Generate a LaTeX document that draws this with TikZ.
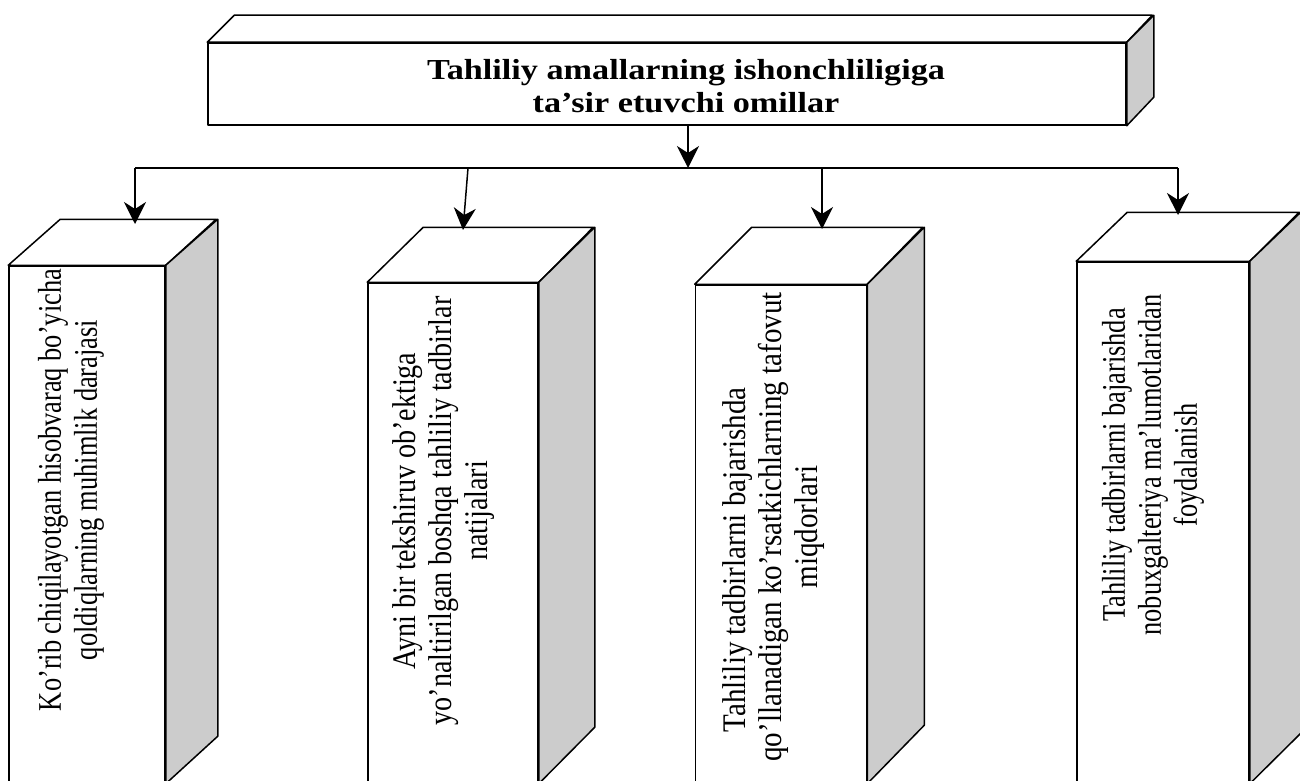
\documentclass[tikz,border=0pt]{standalone}
\usepackage{fontspec}
\setmainfont{Liberation Serif}
\newfontfamily\titlefont[FakeStretch=1.18]{Liberation Serif Bold}
\newfontfamily\boxfont[FakeStretch=0.8]{Liberation Serif}
\usetikzlibrary{arrows.meta}

\begin{document}
\begin{tikzpicture}
		[x=1pt, y=-1pt, line width=1.5pt,
		face/.style={draw,fill=white,inner sep=0pt,line join=round},
		lid/.style={draw,fill=white,line join=round},
		side/.style={draw,fill=black!20,line join=round},
		arr/.style={-{Stealth[length=22pt,width=22pt,inset=7pt]}},
		boxtext/.style={rotate=90,align=center,inner sep=0pt,font=\boxfont\fontsize{33}{36}\selectfont},
		titletext/.style={align=center,inner sep=0pt,font=\titlefont\fontsize{29}{33}\selectfont}]
		\useasboundingbox (0,0) rectangle (1300,781);
		\node [face,minimum width=918pt,minimum height=82pt] (top) at (667,84) {};
		\draw [lid] (top.north west) -- ++(27,-27) -- ++(918,0) -- (top.north east) -- cycle;
		\draw [side] (top.north east) -- ++(27,-27) -- ++(0,82) -- (top.south east) -- cycle;
		\node [titletext] (title) at (686,86) {Tahliliy amallarning ishonchliligiga\\ta’sir etuvchi omillar};
		\node [face,minimum width=156pt,minimum height=517pt] (f1) at (87,524.5) {};
		\draw [lid] (f1.north west) -- ++(52,-46) -- ++(156,0) -- (f1.north east) -- cycle;
		\draw [side] (f1.north east) -- ++(52,-46) -- ++(0,517) -- (f1.south east) -- cycle;
		\node [face,minimum width=170pt,minimum height=500pt] (f2) at (453,533) {};
		\draw [lid] (f2.north west) -- ++(56,-55) -- ++(170,0) -- (f2.north east) -- cycle;
		\draw [side] (f2.north east) -- ++(56,-55) -- ++(0,500) -- (f2.south east) -- cycle;
		\node [face,minimum width=171pt,minimum height=498pt] (f3) at (781,534) {};
		\draw [lid] (f3.north west) -- ++(57,-57) -- ++(171,0) -- (f3.north east) -- cycle;
		\draw [side] (f3.north east) -- ++(57,-57) -- ++(0,498) -- (f3.south east) -- cycle;
		\node [face,minimum width=172pt,minimum height=521pt] (f4) at (1163,522.5) {};
		\draw [lid] (f4.north west) -- ++(51,-49) -- ++(172,0) -- (f4.north east) -- cycle;
		\draw [side] (f4.north east) -- ++(51,-49) -- ++(0,521) -- (f4.south east) -- cycle;
		\node [boxtext] (t1) at (71,490) {Ko’rib chiqilayotgan hisobvaraq bo’yicha\\qoldiqlarning muhimlik darajasi};
		\node [boxtext,xscale=1.065] (t2) at (444,511) {Ayni bir tekshiruv ob’ektiga\\yo’naltirilgan boshqa tahliliy tadbirlar\\natijalari};
		\node [boxtext,xscale=1.1] (t3) at (774,527) {Tahliliy tadbirlarni bajarishda\rule{60pt}{0pt}\\qo’llanadigan ko’rsatkichlarning tafovut\\miqdorlari};
		\node [boxtext] (t4) at (1153,465) {Tahliliy tadbirlarni bajarishda\\nobuxgalteriya ma’lumotlaridan\\foydalanish};
		\coordinate (out) at (688,125);
		\coordinate (hub) at (688,168);
		\coordinate (j1) at (135,168);
		\coordinate (j2) at (468,168);
		\coordinate (j3) at (822,168);
		\coordinate (j4) at (1178,168);
		\coordinate (e1) at (135,224);
		\coordinate (e2) at (463,230);
		\coordinate (e3) at (822,229);
		\coordinate (e4) at (1178,215);
		\draw [arr] (out) -- (hub);
		\draw (j1) -- (j4);
		\draw [arr] (j1) -- (e1);
		\draw [arr] (j2) -- (e2);
		\draw [arr] (j3) -- (e3);
		\draw [arr] (j4) -- (e4);
	\end{tikzpicture}
\end{document}
